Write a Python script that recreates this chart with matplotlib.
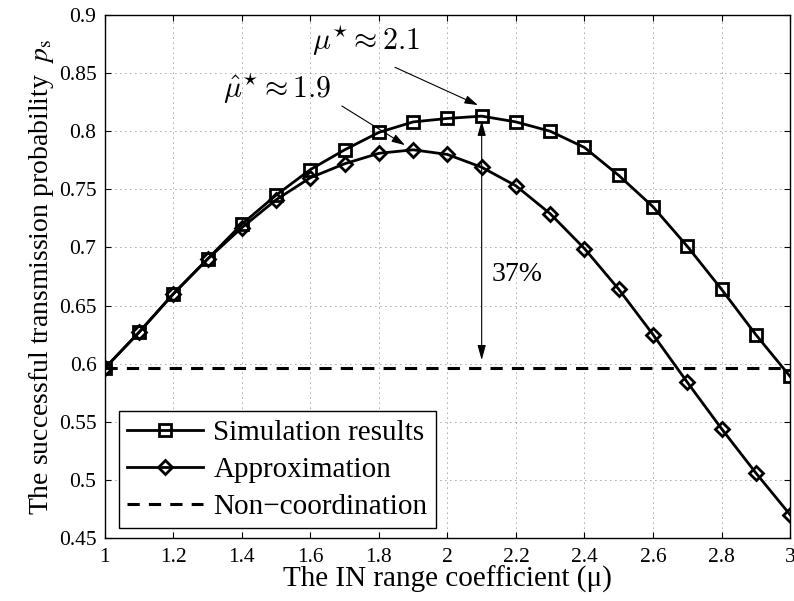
import matplotlib
matplotlib.use("Agg")
import matplotlib.pyplot as plt
import numpy as np

plt.rcParams['font.family'] = ['Liberation Serif', 'DejaVu Serif']
plt.rcParams['mathtext.fontset'] = 'cm'

# IN range coefficient
mu = [1.0, 1.1, 1.2, 1.3, 1.4, 1.5, 1.6, 1.7, 1.8, 1.9, 2.0,
      2.1, 2.2, 2.3, 2.4, 2.5, 2.6, 2.7, 2.8, 2.9, 3.0]
sim = [0.596, 0.627, 0.660, 0.690, 0.720, 0.745, 0.767, 0.784, 0.799, 0.808, 0.811,
       0.813, 0.808, 0.800, 0.786, 0.762, 0.735, 0.701, 0.664, 0.625, 0.589]
approx = [0.596, 0.627, 0.660, 0.690, 0.717, 0.741, 0.760, 0.772, 0.781, 0.784, 0.780,
          0.769, 0.753, 0.729, 0.699, 0.664, 0.625, 0.584, 0.544, 0.506, 0.470]
noncoord = 0.596

xticks = [1, 1.2, 1.4, 1.6, 1.8, 2, 2.2, 2.4, 2.6, 2.8, 3]
xticklabels = ['1', '1.2', '1.4', '1.6', '1.8', '2', '2.2', '2.4', '2.6', '2.8', '3']
yticks = [0.45, 0.5, 0.55, 0.6, 0.65, 0.7, 0.75, 0.8, 0.85, 0.9]
yticklabels = ['0.45', '0.5', '0.55', '0.6', '0.65', '0.7', '0.75', '0.8', '0.85', '0.9']

fig = plt.figure(figsize=(7.94, 6.01), dpi=100)
ax = fig.add_axes([0.132, 0.105, 0.863, 0.870])

ax.plot(mu, sim, 'k-s', lw=2.0, ms=8, mfc='none', mew=2.0, label='Simulation results')
ax.plot(mu, approx, 'k-D', lw=2.0, ms=7, mfc='none', mew=2.0, label='Approximation')
ax.axhline(noncoord, color='k', ls=(0, (4, 3)), lw=2.2, label='Non\u2212coordination')

ax.set_xlim(1, 3)
ax.set_ylim(0.45, 0.9)
ax.set_xticks(xticks)
ax.set_xticklabels(xticklabels)
ax.set_yticks(yticks)
ax.set_yticklabels(yticklabels)
ax.tick_params(direction='in', top=True, right=True, labelsize=15.5, length=4, width=0.8)
ax.tick_params(axis='x', pad=7)
ax.tick_params(axis='y', pad=6)
ax.grid(True, color='0.3', ls=(0, (1, 5)), lw=0.6)
for s in ax.spines.values():
    s.set_linewidth(1.0)

ax.set_xlabel('The IN range coefficient (\u03bc)', fontsize=21, labelpad=-1)
ax.set_ylabel(r'The successful transmission probability  $p_{\mathrm{s}}$', fontsize=20,
              labelpad=2, math_fontfamily='stix')

# annotations
head = '-|>,head_length=0.8,head_width=0.25'
ax.text(1.762, 0.8775, r'$\mu^{\star} \approx 2.1$', fontsize=21.5, ha='center', va='center')
ax.annotate('', xy=(2.089, 0.8225), xytext=(1.847, 0.855),
            arrowprops=dict(arrowstyle=head, color='k', lw=0.8, shrinkA=0, shrinkB=0))
ax.text(1.502, 0.836, r'$\hat{\mu}^{\star} \approx 1.9$', fontsize=21.5, ha='center', va='center')
ax.annotate('', xy=(1.876, 0.788), xytext=(1.692, 0.8217),
            arrowprops=dict(arrowstyle=head, color='k', lw=0.8, shrinkA=0, shrinkB=0))
ax.annotate('', xy=(2.1, 0.603), xytext=(2.1, 0.809),
            arrowprops=dict(arrowstyle='<|-|>,head_length=0.9,head_width=0.25', color='k', lw=0.8,
                            shrinkA=0, shrinkB=0))
ax.text(2.13, 0.677, '37%', fontsize=20, ha='left', va='center')

leg = ax.legend(loc='lower left', bbox_to_anchor=(0.02, 0.018), fontsize=21, numpoints=1,
                handlelength=2.6, handletextpad=0.35, labelspacing=0.35, borderpad=0.3,
                fancybox=False, framealpha=1, edgecolor='k', borderaxespad=0)
leg.get_frame().set_linewidth(1.0)

fig.savefig('out.png', dpi=100)
